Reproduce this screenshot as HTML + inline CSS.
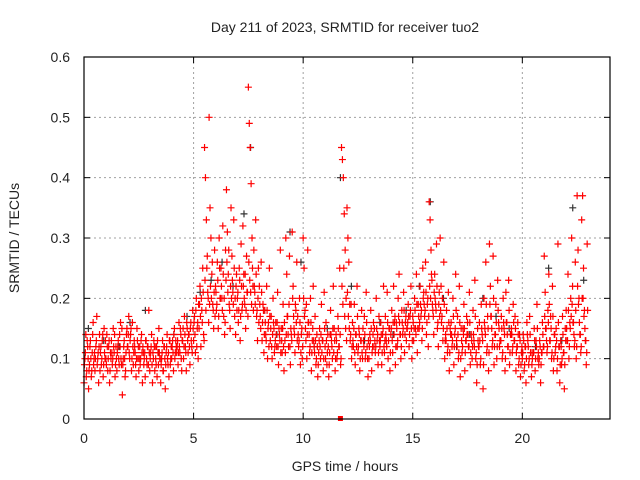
<!DOCTYPE html>
<html><head><meta charset="utf-8"><style>
body{margin:0;background:#fff}
svg{display:block;font-family:"Liberation Sans",sans-serif}
</style></head><body>
<svg id="chart" width="640" height="480">
<text x="345" y="32" text-anchor="middle" font-size="14" fill="#222">Day 211 of 2023, SRMTID for receiver tuo2</text>
<text transform="translate(19,238) rotate(-90)" text-anchor="middle" font-size="14" fill="#222">SRMTID / TECUs</text>
<text x="345" y="471" text-anchor="middle" font-size="14" fill="#222">GPS time / hours</text>
<g id="grid"></g>
<g id="ticks"></g>
<g id="black"></g>
<g id="red"></g>
<rect x="84" y="57" width="526" height="362" fill="none" stroke="#000" stroke-width="1.2"/>
</svg>
<script>
const xTicks=[0,5,10,15,20];
const yTicks=[0,0.1,0.2,0.3,0.4,0.5,0.6];
const yTickLabels=["0","0.1","0.2","0.3","0.4","0.5","0.6"];
const binStart=0, binWidth=0.25;
const redBins=[
[.06,.10,.14,.08,.12,.05],[.09,.13,.07,.11,.16,.10],[.08,.12,.17,.10,.06,.14],[.11,.09,.13,.07,.15,.10],
[.10,.14,.08,.12,.06,.11],[.13,.09,.15,.11,.07,.12],[.08,.12,.10,.14,.16,.09],[.04,.10,.13,.07,.11,.15],
[.12,.17,.10,.14,.08,.16],[.09,.13,.11,.07,.15,.10],[.08,.12,.10,.14,.06,.11],[.10,.07,.13,.09,.12,.18],
[.08,.11,.14,.06,.10,.12],[.12,.09,.07,.11,.15,.10],[.06,.10,.13,.08,.12,.05],[.11,.14,.09,.07,.13,.10],
[.10,.13,.08,.15,.11,.12],[.12,.09,.16,.11,.14,.08],[.13,.10,.17,.12,.08,.15],[.11,.14,.09,.16,.12,.18],
[.13,.17,.11,.20,.15,.10],[.15,.22,.12,.18,.25,.14],[.45,.40,.33,.27,.20,.50],[.35,.30,.24,.19,.15,.28],
[.22,.18,.26,.15,.30,.20],[.25,.20,.32,.17,.14,.28],[.38,.31,.24,.19,.15,.35],[.27,.21,.33,.17,.14,.24],
[.20,.16,.25,.13,.29,.18],[.32,.24,.19,.15,.27,.21],[.55,.49,.45,.39,.30,.22],[.28,.21,.33,.17,.13,.25],
[.22,.17,.26,.13,.19,.11],[.18,.14,.22,.10,.16,.25],[.13,.17,.10,.20,.15,.12],[.16,.12,.21,.09,.14,.28],
[.15,.11,.19,.08,.13,.30],[.24,.17,.12,.27,.09,.14],[.31,.22,.15,.11,.18,.26],[.17,.12,.20,.09,.14,.10],
[.30,.25,.18,.13,.10,.28],[.16,.11,.20,.08,.13,.22],[.12,.17,.09,.14,.07,.11],[.15,.10,.19,.13,.08,.21],
[.12,.16,.09,.14,.07,.11],[.18,.13,.10,.22,.15,.08],[.14,.10,.17,.12,.25,.09],[.45,.43,.40,.34,.28,.20],
[.35,.30,.26,.19,.14,.10],[.16,.12,.19,.09,.14,.22],[.11,.15,.08,.13,.18,.10],[.13,.17,.10,.21,.12,.07],
[.10,.14,.18,.08,.12,.16],[.15,.11,.20,.13,.09,.17],[.12,.16,.09,.14,.22,.11],[.17,.13,.21,.10,.15,.08],
[.14,.18,.11,.22,.16,.09],[.16,.12,.20,.24,.14,.10],[.18,.14,.21,.11,.16,.13],[.15,.19,.12,.17,.22,.10],
[.17,.13,.20,.15,.24,.11],[.19,.15,.22,.17,.13,.25],[.21,.17,.26,.14,.19,.12],[.36,.33,.28,.23,.18,.14],
[.24,.19,.29,.15,.12,.21],[.30,.22,.17,.13,.26,.10],[.14,.18,.11,.21,.08,.15],[.16,.12,.20,.09,.14,.24],
[.13,.17,.10,.22,.07,.15],[.11,.15,.19,.08,.13,.17],[.16,.12,.21,.09,.14,.10],[.18,.13,.23,.10,.06,.15],
[.12,.16,.09,.19,.14,.05],[.20,.15,.26,.11,.17,.08],[.29,.22,.17,.12,.27,.09],[.14,.19,.10,.23,.16,.12],
[.13,.17,.10,.20,.15,.08],[.21,.16,.12,.23,.09,.14],[.15,.11,.19,.13,.17,.08],[.12,.16,.09,.14,.07,.11],
[.10,.14,.08,.12,.06,.16],[.13,.09,.17,.11,.07,.10],[.11,.15,.08,.13,.19,.10],[.09,.13,.06,.11,.16,.12],
[.27,.21,.15,.11,.18,.24],[.13,.17,.10,.22,.08,.14],[.11,.15,.08,.29,.12,.06],[.13,.09,.17,.11,.05,.15],
[.18,.13,.24,.10,.16,.20],[.30,.22,.16,.12,.26,.10],[.37,.28,.20,.14,.11,.33],[.37,.25,.18,.13,.09,.29]
];
const redBins2=[
[.09,.11,.07,.13,.10,.08],[.12,.10,.08,.14,.09,.11],[.10,.13,.09,.11,.12,.08],[.12,.10,.14,.09,.11,.13],
[.09,.12,.10,.13,.08,.10],[.11,.10,.12,.14,.09,.10],[.11,.13,.09,.12,.10,.15],[.09,.12,.10,.08,.14,.12],
[.14,.11,.13,.15,.10,.12],[.11,.12,.09,.10,.13,.12],[.10,.09,.13,.11,.12,.09],[.11,.13,.10,.12,.09,.11],
[.10,.12,.09,.11,.13,.08],[.10,.12,.13,.09,.11,.10],[.09,.11,.08,.12,.10,.09],[.12,.10,.11,.13,.09,.12],
[.12,.11,.14,.10,.13,.11],[.13,.11,.12,.15,.10,.13],[.15,.12,.14,.11,.16,.13],[.14,.12,.15,.13,.11,.15],
[.16,.14,.18,.12,.16,.19],[.19,.17,.20,.16,.21,.13],[.23,.18,.25,.21,.16,.19],[.22,.20,.26,.18,.21,.17],
[.21,.19,.23,.17,.25,.20],[.22,.18,.24,.20,.16,.23],[.26,.21,.28,.18,.22,.20],[.23,.19,.25,.20,.22,.18],
[.21,.18,.23,.17,.22,.19],[.22,.20,.24,.18,.21,.17],[.26,.23,.21,.19,.25,.18],[.22,.19,.24,.18,.20,.16],
[.19,.15,.21,.16,.18,.14],[.16,.13,.18,.15,.12,.17],[.15,.12,.14,.16,.11,.13],[.14,.16,.12,.15,.13,.11],
[.13,.15,.12,.16,.11,.14],[.17,.14,.19,.12,.15,.13],[.20,.17,.14,.19,.16,.13],[.14,.13,.16,.11,.15,.12],
[.20,.17,.15,.19,.14,.16],[.14,.12,.16,.11,.15,.13],[.11,.13,.10,.12,.09,.13],[.12,.14,.11,.13,.10,.15],
[.10,.13,.11,.12,.09,.14],[.14,.12,.15,.11,.13,.10],[.13,.11,.15,.12,.14,.10],[.22,.19,.25,.17,.15,.13],
[.21,.17,.15,.13,.19,.12],[.13,.15,.11,.14,.12,.17],[.12,.14,.10,.13,.11,.15],[.12,.14,.11,.16,.10,.13],
[.12,.13,.15,.11,.14,.12],[.13,.12,.15,.14,.11,.13],[.13,.14,.11,.15,.12,.13],[.14,.12,.16,.13,.15,.11],
[.15,.13,.16,.14,.17,.12],[.15,.13,.17,.16,.14,.12],[.16,.15,.18,.14,.17,.15],[.16,.17,.14,.18,.15,.13],
[.16,.15,.18,.14,.19,.15],[.17,.16,.19,.18,.15,.20],[.19,.18,.21,.16,.20,.17],[.22,.20,.24,.19,.17,.21],
[.20,.18,.22,.16,.19,.17],[.18,.16,.20,.15,.19,.13],[.13,.15,.12,.16,.11,.14],[.14,.13,.17,.12,.15,.18],
[.12,.14,.11,.16,.10,.13],[.12,.14,.15,.11,.13,.14],[.14,.12,.16,.11,.13,.12],[.14,.12,.17,.11,.09,.13],
[.12,.13,.10,.15,.13,.09],[.16,.14,.19,.12,.15,.11],[.19,.17,.15,.13,.20,.12],[.14,.16,.12,.18,.15,.13],
[.13,.15,.11,.16,.14,.10],[.16,.14,.12,.18,.11,.14],[.14,.12,.16,.13,.15,.11],[.12,.14,.10,.13,.09,.12],
[.11,.13,.09,.12,.10,.14],[.12,.10,.14,.11,.09,.11],[.11,.13,.10,.12,.15,.11],[.10,.12,.09,.11,.14,.12],
[.17,.15,.13,.12,.16,.19],[.13,.15,.11,.17,.10,.14],[.12,.13,.10,.16,.12,.09],[.12,.10,.14,.11,.09,.13],
[.15,.13,.18,.12,.15,.17],[.19,.16,.14,.13,.18,.12],[.22,.19,.16,.14,.12,.20],[.20,.17,.15,.13,.11,.18]
];
const blackTimes=[0.2,0.9,1.6,2.1,2.8,3.4,4.1,4.7,5.3,5.8,6.3,6.8,7.3,7.6,8.2,8.8,9.4,9.9,10.5,11.1,11.7,12.2,12.8,13.5,14.1,14.7,15.3,15.8,16.4,17.0,17.6,18.2,18.8,19.4,20.0,20.6,21.2,21.8,22.3,22.8];
const blackValues=[0.15,0.13,0.12,0.16,0.18,0.11,0.14,0.17,0.21,0.23,0.26,0.22,0.34,0.45,0.18,0.14,0.31,0.26,0.12,0.15,0.40,0.22,0.13,0.16,0.14,0.18,0.22,0.36,0.20,0.12,0.14,0.20,0.17,0.15,0.11,0.12,0.25,0.13,0.35,0.23];
const zeroFlagTime=[11.7];
const X=t=>84+t*(526/24);
const Y=v=>419-v*(362/0.6);
const NS="http://www.w3.org/2000/svg";
function mk(tag,attrs,parent){const e=document.createElementNS(NS,tag);for(const k in attrs)e.setAttribute(k,attrs[k]);parent.appendChild(e);return e;}
const grid=document.getElementById('grid'),ticks=document.getElementById('ticks');
xTicks.forEach(t=>{
  if(t>0){const l=mk('line',{x1:X(t),x2:X(t),y1:57,y2:419,stroke:'#a0a0a0','stroke-dasharray':'2,3'},grid);
  
  }
  mk('line',{x1:X(t),x2:X(t),y1:419,y2:413,stroke:'#000'},grid);
  mk('line',{x1:X(t),x2:X(t),y1:57,y2:63,stroke:'#000'},grid);
  const tx=mk('text',{x:X(t),y:443,'text-anchor':'middle','font-size':14,fill:'#222'},ticks);tx.textContent=t;
  
  
});
yTicks.forEach((v,i)=>{
  if(v>0&&v<0.6){const l=mk('line',{x1:84,x2:610,y1:Y(v),y2:Y(v),stroke:'#a0a0a0','stroke-dasharray':'2,3'},grid);
  
  }
  mk('line',{x1:84,x2:90,y1:Y(v),y2:Y(v),stroke:'#000'},grid);
  mk('line',{x1:604,x2:610,y1:Y(v),y2:Y(v),stroke:'#000'},grid);
  const tx=mk('text',{x:70,y:Y(v)+5,'text-anchor':'end','font-size':14,fill:'#222'},ticks);tx.textContent=yTickLabels[i];
  
  
});
function plus(x,y,c,g){return mk('path',{d:`M${x-3.5},${y}h7M${x},${y-3.5}v7`,stroke:c,'stroke-width':1.2,fill:'none'},g);}
const bg=document.getElementById('black');
blackTimes.forEach((t,i)=>{const p=plus(X(t),Y(blackValues[i]),'#333',bg);
  
  });
const rg=document.getElementById('red');
function drawBins(bins,offset){
  bins.forEach((vals,b)=>{vals.forEach((v,k)=>{
    const t=binStart+b*binWidth+(k+offset)*binWidth/vals.length;
    const p=plus(X(t),Y(v),'#ff0000',rg);
    
    
  });});
}
drawBins(redBins,0);
drawBins(redBins2,0.5);
zeroFlagTime.forEach(t=>{const r=mk('rect',{x:X(t)-2.5,y:416,width:5,height:5,fill:'#ff0000'},rg);
  
  });
</script>
</body></html>
